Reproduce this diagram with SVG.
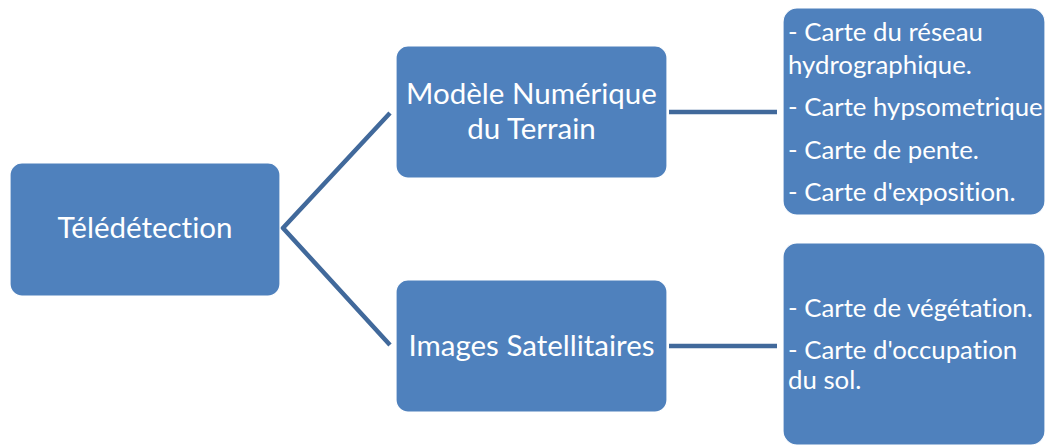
<svg xmlns="http://www.w3.org/2000/svg" width="1046" height="446" viewBox="0 0 1046 446">
<style>
.box{fill:#4f81bd;stroke:#ffffff;stroke-width:1.2}
.t{font-family:Lato,"Open Sans","Liberation Sans",sans-serif;fill:#ffffff;font-variant-ligatures:none}
.big{font-size:29.5px}
.sm{font-size:25.8px}
.c{text-anchor:middle}
.con{stroke:#41699b;stroke-width:4.5;fill:none}
</style>
<rect width="1046" height="446" fill="#ffffff"/>
<g id="connectors">
<polyline class="con" points="390,113 283,228 390,345"/>
<line class="con" x1="669" y1="112" x2="777" y2="112"/>
<line class="con" x1="669" y1="346" x2="777" y2="346"/>
</g>
<g id="teledetection">
<rect class="box" x="10" y="163" width="270" height="133" rx="12"/>
<text class="t big c" x="145" y="238">Télédétection</text>
</g>
<g id="mnt">
<rect class="box" x="396" y="46" width="271" height="132" rx="12"/>
<text class="t big c" x="531.5" y="104">Modèle Numérique</text>
<text class="t big c" x="531.5" y="139">du Terrain</text>
</g>
<g id="images">
<rect class="box" x="396" y="280" width="271" height="132" rx="12"/>
<text class="t big c" x="531.5" y="356">Images Satellitaires</text>
</g>
<g id="cartes-mnt">
<rect class="box" x="783" y="8" width="262" height="207" rx="14"/>
<text class="t sm" x="788" y="41">- Carte du réseau</text>
<text class="t sm" x="788" y="74">hydrographique.</text>
<text class="t sm" x="788" y="116">- Carte hypsometrique</text>
<text class="t sm" x="788" y="159">- Carte de pente.</text>
<text class="t sm" x="788" y="201">- Carte d'exposition.</text>
</g>
<g id="cartes-images">
<rect class="box" x="783" y="243" width="262" height="202" rx="14"/>
<text class="t sm" x="788" y="317">- Carte de végétation.</text>
<text class="t sm" x="788" y="359">- Carte d'occupation</text>
<text class="t sm" x="788" y="389">du sol.</text>
</g>
</svg>
